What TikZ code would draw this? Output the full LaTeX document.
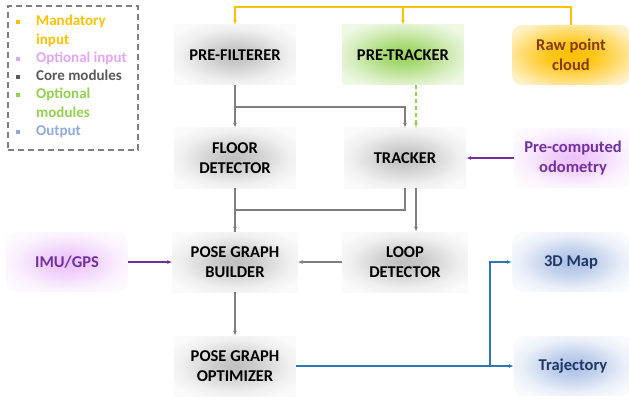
\documentclass[tikz,border=0pt]{standalone}
\usepackage{fontspec}
\setmainfont{Carlito}
\usetikzlibrary{arrows.meta,positioning}
\definecolor{mandOrange}{HTML}{FFC000}
\definecolor{rawText}{HTML}{843C0C}
\definecolor{optViolet}{HTML}{E3A6F7}
\definecolor{optPurple}{HTML}{7030A0}
\definecolor{coreGray}{HTML}{7F7F7F}
\definecolor{coreText}{HTML}{595959}
\definecolor{optGreen}{HTML}{92D050}
\definecolor{outBlue}{HTML}{8FAADC}
\definecolor{outLine}{HTML}{2E75B6}
\definecolor{outText}{HTML}{1F3864}
% soft box shadings (the middle 50bp square is fitted to the box)
\pgfdeclareradialshading{coreshade}{\pgfpointorigin}{color(0bp)=(black!25); color(8bp)=(black!20); color(22bp)=(black!6); color(30bp)=(black!2); color(50bp)=(black!2)}
\pgfdeclareradialshading{greenshade}{\pgfpointorigin}{color(0bp)=(optGreen!95); color(8bp)=(optGreen!80); color(22bp)=(optGreen!35); color(30bp)=(optGreen!15); color(50bp)=(optGreen!15)}
\pgfdeclareradialshading{orangeshade}{\pgfpointorigin}{color(0bp)=(mandOrange); color(10bp)=(mandOrange!90); color(22bp)=(mandOrange!50); color(30bp)=(mandOrange!22); color(50bp)=(mandOrange!22)}
\pgfdeclareradialshading{violetshade}{\pgfpointorigin}{color(0bp)=(optViolet!70); color(10bp)=(optViolet!50); color(22bp)=(optViolet!16); color(30bp)=(optViolet!6); color(50bp)=(optViolet!6)}
\pgfdeclareradialshading{blueshade}{\pgfpointorigin}{color(0bp)=(outBlue!75); color(10bp)=(outBlue!55); color(22bp)=(outBlue!18); color(30bp)=(outBlue!6); color(50bp)=(outBlue!6)}

\begin{document}
\begin{tikzpicture}[x=1pt,y=-1pt,
  core/.style={minimum width=122pt, minimum height=60pt, align=center, shading=coreshade, font=\fontsize{16.5}{19.5}\selectfont\bfseries},
  optmod/.style={core, shading=greenshade},
  rawin/.style={minimum width=118pt, minimum height=60pt, rounded corners=10pt, align=center, shading=orangeshade, text=rawText, font=\fontsize{16.5}{19.5}\selectfont\bfseries},
  optin/.style={rawin, shading=violetshade, text=optPurple},
  outbox/.style={rawin, shading=blueshade, text=outText},
  legendbox/.style={draw=coreGray, line width=1.5pt, dash pattern=on 6pt off 4pt, minimum width=130pt, minimum height=144pt},
  bullet/.style={minimum size=4pt, inner sep=0pt},
  legtext/.style={anchor=north west, inner sep=0pt, align=left, font=\fontsize{15}{18.3}\selectfont\bfseries},
  wire/.style={draw=coreGray, line width=1.3pt, -{Latex[length=5pt,width=4pt]}},
  mand/.style={wire, draw=mandOrange},
  optwire/.style={wire, draw=optGreen, dash pattern=on 4pt off 3pt},
  inwire/.style={wire, draw=optPurple},
  outwire/.style={wire, draw=outLine, line width=1.6pt}
]
\useasboundingbox (0,0) rectangle (629,401);

% Legend
\node[legendbox] (legend) at (73,78) {};
\foreach \y/\col/\txt in {24/mandOrange/{Mandatory\\input}, 61/optViolet/{Optional input}, 79/coreText/{Core modules}, 97/optGreen/{Optional\\modules}, 134/outBlue/{Output}} {
  \node[bullet, fill=\col] (b\y) at (18,\y-2) {};
  \node[legtext, text=\col] (t\y) at (36,\y-9) {\txt};
}

% Modules
\node[core] (pref) at (235,55) {PRE-FILTERER};
\node[optmod] (pret) at (403,55) {PRE-TRACKER};
\node[rawin] (raw) at (571,55) {Raw point\\cloud};
\node[core] (fdet) at (235,158) {FLOOR\\DETECTOR};
\node[core] (trk) at (405,158) {TRACKER};
\node[optin] (odom) at (573,158) {Pre-computed\\odometry};
\node[optin, minimum width=122pt] (imu) at (67,262) {IMU/GPS};
\node[core, minimum width=125pt] (pgb) at (235,262) {POSE GRAPH\\BUILDER};
\node[core, minimum width=125pt] (loop) at (405,262) {LOOP\\DETECTOR};
\node[outbox] (map) at (571,262) {3D Map};
\node[core] (pgo) at (235,366) {POSE GRAPH\\OPTIMIZER};
\node[outbox] (traj) at (573,366) {Trajectory};

% junctions
\coordinate (jmand) at (pret.north |- 0,7);
\coordinate (jpf) at (235,107);
\coordinate (jtrk) at (405,210);
\coordinate (jout) at (490,366);

% arrows
\draw[mand] (raw.north) -- (raw.north |- jmand) -| (pref.north);
\draw[mand] (jmand) -- (pret.north);
\draw[wire] (pref) -- (fdet);
\draw[wire] (jpf) -| (trk.north);
\draw[optwire] ([xshift=13pt]pret.south) -- ([xshift=11pt]trk.north);
\draw[inwire] (odom) -- (trk);
\draw[wire] (fdet) -- (pgb);
\draw[wire, -] (trk.south) -- (jtrk) -| (pgb.north);
\draw[wire] ([xshift=11pt]trk.south) -- ([xshift=11pt]loop.north);
\draw[wire] (loop) -- (pgb);
\draw[inwire] (imu) -- (pgb);
\draw[wire] (pgb) -- (pgo);
\draw[outwire] (pgo) -- (traj);
\draw[outwire] (jout) |- (map.west);
\end{tikzpicture}
\end{document}
